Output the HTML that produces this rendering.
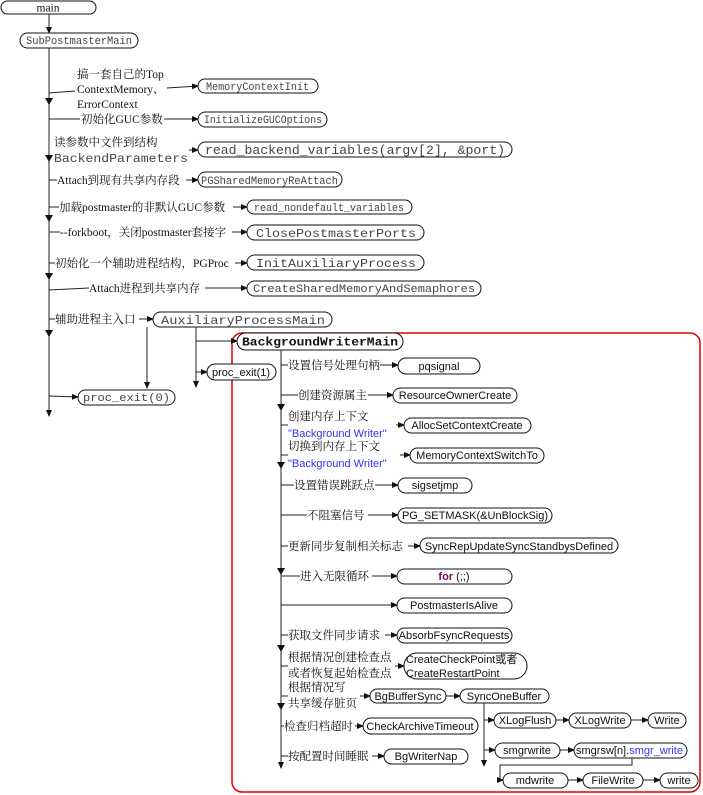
<!DOCTYPE html>
<html><head><meta charset="utf-8">
<style>
html,body{margin:0;padding:0;background:#fff;}
svg{display:block;}
.s{font-family:"Liberation Serif","Noto Serif CJK SC",serif;font-size:11.5px;fill:#111;}
.m{font-family:"Liberation Mono","DejaVu Sans Mono",monospace;font-size:11px;fill:#444;}
.a{font-family:"Liberation Sans","Noto Sans CJK SC",sans-serif;font-size:11px;fill:#111;}
.b{font-family:"Liberation Sans",sans-serif;font-size:11px;fill:#3333ee;}
rect{fill:#fff;stroke:#111;stroke-width:1;}
line,polyline{stroke:#222;stroke-width:1;fill:none;}
</style></head><body>
<svg width="703" height="795" viewBox="0 0 703 795" xmlns="http://www.w3.org/2000/svg">
<defs>
<marker id="ar" markerWidth="7" markerHeight="6" refX="6" refY="3" orient="auto" markerUnits="userSpaceOnUse">
<path d="M0,0 L7,3 L0,6 z" fill="#111"/></marker>
</defs>
<rect x="232" y="333" width="468" height="459" rx="10" style="stroke:#e00000;stroke-width:1.5;fill:none"/>

<rect x="1" y="1" width="95" height="13" rx="6.5"/>
<text class="s" x="48" y="11.5" text-anchor="middle">main</text>
<line x1="49" y1="14" x2="49" y2="33" marker-end="url(#ar)"/>
<rect x="20" y="33" width="118" height="15" rx="7.5"/>
<text class="m" x="26" y="44" textLength="106" lengthAdjust="spacingAndGlyphs">SubPostmasterMain</text>

<line x1="49" y1="48" x2="49" y2="416" marker-end="url(#ar)"/>
<path d="M45,98 L53,98 L49,105 z M45,155 L53,155 L49,162 z M45,215 L53,215 L49,222 z M45,273 L53,273 L49,280 z M45,330 L53,330 L49,337 z" fill="#111"/>

<polyline points="49,93 75,91"/>
<text class="s" x="77" y="78">搞一套自己的Top</text>
<text class="s" x="77" y="93">ContextMemory、</text>
<text class="s" x="77" y="108">ErrorContext</text>
<line x1="167" y1="88" x2="198" y2="86" marker-end="url(#ar)"/>
<rect x="198" y="79" width="120" height="14" rx="7"/>
<text class="m" x="206" y="90" textLength="103" lengthAdjust="spacingAndGlyphs">MemoryContextInit</text>

<line x1="49" y1="119" x2="80" y2="119"/>
<text class="s" x="81" y="123">初始化GUC参数</text>
<line x1="164" y1="119" x2="198" y2="119" marker-end="url(#ar)"/>
<rect x="198" y="112" width="129" height="15" rx="7.5"/>
<text class="m" x="204" y="123" textLength="118" lengthAdjust="spacingAndGlyphs">InitializeGUCOptions</text>

<text class="s" x="54" y="146">读参数中文件到结构</text>
<text class="m" x="54" y="162" style="font-size:12px" textLength="134" lengthAdjust="spacingAndGlyphs">BackendParameters</text>
<line x1="189" y1="150" x2="198" y2="150" marker-end="url(#ar)"/>
<rect x="198" y="142" width="314" height="15" rx="7.5"/>
<text class="m" x="205" y="154" style="font-size:12.5px" textLength="300" lengthAdjust="spacingAndGlyphs">read_backend_variables(argv[2], &amp;port)</text>

<line x1="49" y1="180" x2="57" y2="180"/>
<text class="s" x="57" y="184">Attach到现有共享内存段</text>
<line x1="186" y1="180" x2="198" y2="180" marker-end="url(#ar)"/>
<rect x="198" y="172" width="144" height="15" rx="7.5"/>
<text class="m" x="201" y="184" textLength="137" lengthAdjust="spacingAndGlyphs">PGSharedMemoryReAttach</text>

<line x1="49" y1="207" x2="59" y2="207"/>
<text class="s" x="59" y="211">加载postmaster的非默认GUC参数</text>
<line x1="233" y1="207" x2="247" y2="207" marker-end="url(#ar)"/>
<rect x="247" y="200" width="165" height="14" rx="7"/>
<text class="m" x="254" y="211" textLength="150" lengthAdjust="spacingAndGlyphs">read_nondefault_variables</text>

<line x1="49" y1="232" x2="60" y2="232"/>
<text class="s" x="60" y="236">--forkboot，关闭postmaster套接字</text>
<line x1="232" y1="232" x2="247" y2="232" marker-end="url(#ar)"/>
<rect x="247" y="225" width="177" height="15" rx="7.5"/>
<text class="m" x="256" y="237" style="font-size:12px" textLength="160" lengthAdjust="spacingAndGlyphs">ClosePostmasterPorts</text>

<line x1="49" y1="263" x2="55" y2="263"/>
<text class="s" x="55" y="267">初始化一个辅助进程结构，PGProc</text>
<line x1="235" y1="263" x2="247" y2="263" marker-end="url(#ar)"/>
<rect x="247" y="255" width="177" height="15" rx="7.5"/>
<text class="m" x="256" y="267" style="font-size:12px" textLength="160" lengthAdjust="spacingAndGlyphs">InitAuxiliaryProcess</text>

<line x1="49" y1="290" x2="89" y2="288"/>
<text class="s" x="89" y="292">Attach进程到共享内存</text>
<line x1="205" y1="288" x2="247" y2="288" marker-end="url(#ar)"/>
<rect x="247" y="281" width="234" height="15" rx="7.5"/>
<text class="m" x="253" y="292" textLength="222" lengthAdjust="spacingAndGlyphs">CreateSharedMemoryAndSemaphores</text>

<line x1="49" y1="319" x2="55" y2="319"/>
<text class="s" x="55" y="323">辅助进程主入口</text>
<line x1="139" y1="319" x2="153" y2="319" marker-end="url(#ar)"/>
<rect x="153" y="312" width="179" height="15" rx="7.5"/>
<text class="m" x="161" y="324" style="font-size:12px" textLength="164" lengthAdjust="spacingAndGlyphs">AuxiliaryProcessMain</text>

<line x1="147" y1="327" x2="147" y2="388" marker-end="url(#ar)"/>
<line x1="196" y1="327" x2="196" y2="387" marker-end="url(#ar)"/>
<line x1="196" y1="341" x2="237" y2="341" marker-end="url(#ar)"/>
<rect x="237" y="333" width="166" height="17" rx="8.5"/>
<text class="m" x="242" y="345.5" style="font-weight:bold;font-size:12px;fill:#111" textLength="156" lengthAdjust="spacingAndGlyphs">BackgroundWriterMain</text>
<line x1="196" y1="372" x2="207" y2="372" marker-end="url(#ar)"/>
<rect x="207" y="364" width="69" height="16" rx="8"/>
<text class="a" x="241" y="376" text-anchor="middle">proc_exit(1)</text>
<line x1="49" y1="396" x2="78" y2="397" marker-end="url(#ar)"/>
<rect x="78" y="390" width="97" height="15" rx="7.5"/>
<text class="m" x="83" y="401" textLength="87" lengthAdjust="spacingAndGlyphs">proc_exit(0)</text>

<line x1="281" y1="350" x2="281" y2="768" marker-end="url(#ar)"/>
<path d="M277,404 L285,404 L281,411 z M277,462 L285,462 L281,469 z M277,568 L285,568 L281,575 z M277,645 L285,645 L281,652 z M277,703 L285,703 L281,710 z" fill="#111"/>

<line x1="281" y1="365" x2="288" y2="365"/>
<text class="s" x="288" y="369">设置信号处理句柄</text>
<line x1="380" y1="365" x2="398" y2="365" marker-end="url(#ar)"/>
<rect x="398" y="358" width="82" height="16" rx="8"/>
<text class="a" x="439" y="370" text-anchor="middle">pqsignal</text>

<line x1="281" y1="395" x2="298" y2="395"/>
<text class="s" x="298" y="399">创建资源属主</text>
<line x1="368" y1="395" x2="393" y2="395" marker-end="url(#ar)"/>
<rect x="393" y="388" width="124" height="15" rx="7.5"/>
<text class="a" x="455" y="399" text-anchor="middle">ResourceOwnerCreate</text>

<line x1="281" y1="425" x2="288" y2="425"/>
<text class="s" x="288" y="420">创建内存上下文</text>
<text class="b" x="288" y="437">"Background Writer"</text>
<line x1="396" y1="425" x2="404" y2="425" marker-end="url(#ar)"/>
<rect x="404" y="418" width="127" height="15" rx="7.5"/>
<text class="a" x="467" y="429" text-anchor="middle">AllocSetContextCreate</text>

<line x1="281" y1="455" x2="288" y2="455"/>
<text class="s" x="288" y="450">切换到内存上下文</text>
<text class="b" x="288" y="467">"Background Writer"</text>
<line x1="400" y1="455" x2="410" y2="455" marker-end="url(#ar)"/>
<rect x="410" y="448" width="134" height="15" rx="7.5"/>
<text class="a" x="477" y="459" text-anchor="middle">MemoryContextSwitchTo</text>

<line x1="281" y1="485" x2="294" y2="485"/>
<text class="s" x="294" y="489">设置错误跳跃点</text>
<line x1="375" y1="485" x2="398" y2="485" marker-end="url(#ar)"/>
<rect x="398" y="478" width="74" height="15" rx="7.5"/>
<text class="a" x="435" y="489" text-anchor="middle">sigsetjmp</text>

<line x1="281" y1="515" x2="307" y2="515"/>
<text class="s" x="307" y="519">不阻塞信号</text>
<line x1="368" y1="515" x2="398" y2="515" marker-end="url(#ar)"/>
<rect x="398" y="508" width="154" height="15" rx="7.5"/>
<text class="a" x="475" y="519" text-anchor="middle">PG_SETMASK(&amp;UnBlockSig)</text>

<line x1="281" y1="546" x2="288" y2="546"/>
<text class="s" x="288" y="550">更新同步复制相关标志</text>
<line x1="408" y1="546" x2="420" y2="546" marker-end="url(#ar)"/>
<rect x="420" y="538" width="198" height="15" rx="7.5"/>
<text class="a" x="519" y="550" text-anchor="middle">SyncRepUpdateSyncStandbysDefined</text>

<line x1="281" y1="576" x2="300" y2="576"/>
<text class="s" x="300" y="580">进入无限循环</text>
<line x1="372" y1="576" x2="397" y2="576" marker-end="url(#ar)"/>
<rect x="397" y="569" width="115" height="15" rx="7.5"/>
<text class="a" x="454" y="580" text-anchor="middle"><tspan style="fill:#7a0a5a;font-weight:bold">for</tspan> (;;)</text>

<line x1="281" y1="605" x2="397" y2="605" marker-end="url(#ar)"/>
<rect x="397" y="598" width="115" height="15" rx="7.5"/>
<text class="a" x="454" y="609" text-anchor="middle">PostmasterIsAlive</text>

<line x1="281" y1="635" x2="288" y2="635"/>
<text class="s" x="288" y="639">获取文件同步请求</text>
<line x1="385" y1="635" x2="397" y2="635" marker-end="url(#ar)"/>
<rect x="397" y="628" width="115" height="15" rx="7.5"/>
<text class="a" x="454" y="639" text-anchor="middle">AbsorbFsyncRequests</text>

<line x1="281" y1="666" x2="288" y2="666"/>
<text class="s" x="288" y="661">根据情况创建检查点</text>
<text class="s" x="288" y="677">或者恢复起始检查点</text>
<line x1="395" y1="666" x2="404" y2="666" marker-end="url(#ar)"/>
<rect x="404" y="653" width="123" height="26" rx="13"/>
<text class="a" x="406" y="663">CreateCheckPoint或者</text>
<text class="a" x="406" y="677">CreateRestartPoint</text>

<line x1="281" y1="696" x2="288" y2="696"/>
<text class="s" x="288" y="691">根据情况写</text>
<text class="s" x="288" y="707">共享缓存脏页</text>
<line x1="360" y1="696" x2="370" y2="696" marker-end="url(#ar)"/>
<rect x="370" y="689" width="76" height="14" rx="7"/>
<text class="a" x="408" y="700" text-anchor="middle">BgBufferSync</text>
<line x1="446" y1="696" x2="460" y2="696" marker-end="url(#ar)"/>
<rect x="460" y="689" width="89" height="14" rx="7"/>
<text class="a" x="504" y="700" text-anchor="middle">SyncOneBuffer</text>

<line x1="281" y1="726" x2="284" y2="726"/>
<text class="s" x="284" y="730">检查归档超时</text>
<line x1="355" y1="726" x2="363" y2="726" marker-end="url(#ar)"/>
<rect x="363" y="718" width="115" height="16" rx="8"/>
<text class="a" x="420" y="730" text-anchor="middle">CheckArchiveTimeout</text>

<line x1="281" y1="756" x2="288" y2="756"/>
<text class="s" x="288" y="760">按配置时间睡眠</text>
<line x1="372" y1="756" x2="384" y2="756" marker-end="url(#ar)"/>
<rect x="384" y="749" width="84" height="15" rx="7.5"/>
<text class="a" x="426" y="760" text-anchor="middle">BgWriterNap</text>

<line x1="484" y1="703" x2="484" y2="766" marker-end="url(#ar)"/>
<line x1="484" y1="720" x2="494" y2="720" marker-end="url(#ar)"/>
<rect x="494" y="713" width="62" height="15" rx="7.5"/>
<text class="a" x="525" y="724" text-anchor="middle">XLogFlush</text>
<line x1="556" y1="720" x2="569" y2="720" marker-end="url(#ar)"/>
<rect x="569" y="713" width="62" height="15" rx="7.5"/>
<text class="a" x="600" y="724" text-anchor="middle">XLogWrite</text>
<line x1="631" y1="720" x2="648" y2="720" marker-end="url(#ar)"/>
<rect x="648" y="713" width="38" height="15" rx="7.5"/>
<text class="a" x="667" y="724" text-anchor="middle">Write</text>

<line x1="484" y1="750" x2="495" y2="750" marker-end="url(#ar)"/>
<rect x="495" y="743" width="65" height="15" rx="7.5"/>
<text class="a" x="527" y="754" text-anchor="middle">smgrwrite</text>
<line x1="560" y1="750" x2="574" y2="750" marker-end="url(#ar)"/>
<rect x="574" y="743" width="113" height="15" rx="7.5"/>
<text class="a" x="576" y="754">smgrsw[n].<tspan style="fill:#3333ee">smgr_write</tspan></text>

<polyline points="632,758 632,765 500,765 500,780 503,780" marker-end="url(#ar)"/>
<rect x="503" y="773" width="65" height="15" rx="7.5"/>
<text class="a" x="535" y="784" text-anchor="middle">mdwrite</text>
<line x1="568" y1="780" x2="583" y2="780" marker-end="url(#ar)"/>
<rect x="583" y="773" width="60" height="15" rx="7.5"/>
<text class="a" x="613" y="784" text-anchor="middle">FileWrite</text>
<line x1="643" y1="780" x2="660" y2="780" marker-end="url(#ar)"/>
<rect x="660" y="773" width="38" height="15" rx="7.5"/>
<text class="a" x="679" y="784" text-anchor="middle">write</text>
</svg>
</body></html>
